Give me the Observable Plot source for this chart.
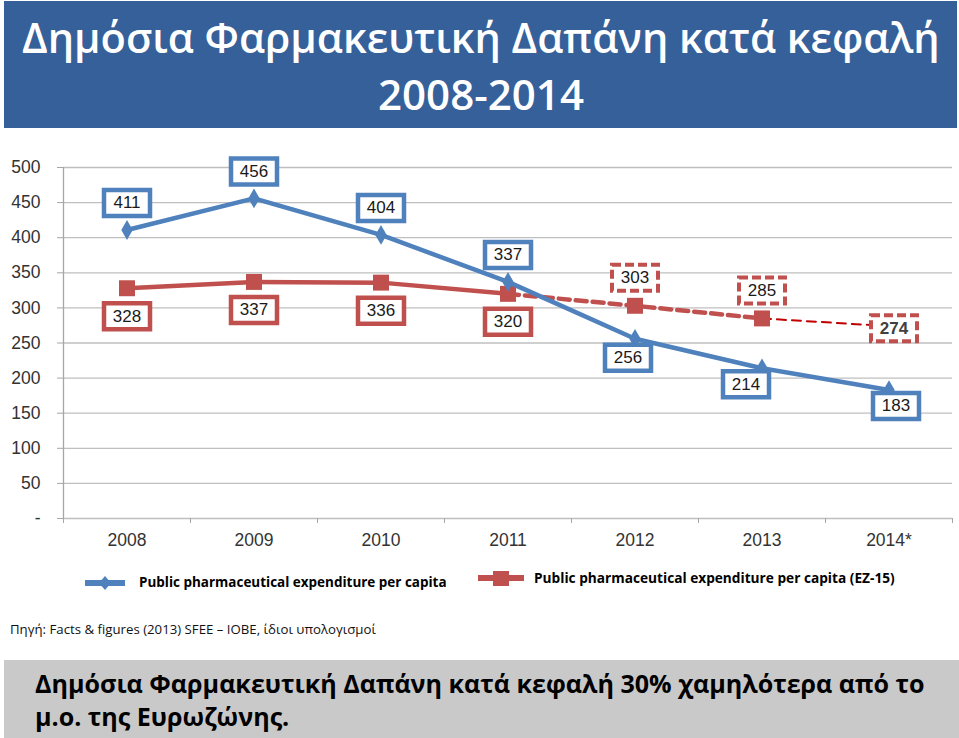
<!DOCTYPE html>
<html>
<head>
<meta charset="utf-8">
<script src="https://cdn.jsdelivr.net/npm/d3@7"></script>
<script src="https://cdn.jsdelivr.net/npm/@observablehq/plot@0.6"></script>
<style>
  html, body { margin: 0; padding: 0; background: #fff; width: 959px; height: 738px; overflow: hidden; }
  .abs { position: absolute; white-space: nowrap; }
  #banner { left: 4px; top: 1px; width: 953px; height: 127px; background: #36609A; }
  #graybox { left: 4px; top: 660px; width: 955px; height: 78px; background: #C9C9C9; }
  .t1 { color: #fff; font-family: "Open Sans", sans-serif; }
  .b1 { color: #000; font-family: "Open Sans", sans-serif; font-weight: 700; }
  .leg { font-family: "Open Sans", sans-serif; font-weight: 700; color: #000; }
  #chart { left: 0; top: 135px; }
</style>
</head>
<body>
<div id="banner" class="abs"></div>
<div id="title1" class="abs t1">Δημόσια Φαρμακευτική Δαπάνη κατά κεφαλή</div>
<div id="title2" class="abs t1">2008-2014</div>
<div id="chart" class="abs"></div>
<svg class="abs" style="left:80px;top:572px" width="50" height="22"><line x1="5" x2="45" y1="11" y2="11" stroke="#4F81BD" stroke-width="6"/><path d="M25,4 L31,11 L25,18 L19,11 Z" fill="#4F81BD"/></svg>
<div id="leg1" class="abs leg">Public pharmaceutical expenditure per capita</div>
<svg class="abs" style="left:474px;top:567px" width="54" height="22"><line x1="4" x2="50" y1="11" y2="11" stroke="#C0504D" stroke-width="6"/><rect x="19" y="4" width="16" height="15" fill="#C0504D"/></svg>
<div id="leg2" class="abs leg">Public pharmaceutical expenditure per capita (EZ-15)</div>
<div id="source" class="abs" style="font-family:'Open Sans',sans-serif;color:#111;">Πηγή: Facts &amp; figures (2013) SFEE – IOBE, ίδιοι υπολογισμοί</div>
<div id="graybox" class="abs"></div>
<div id="bottom1" class="abs b1">Δημόσια Φαρμακευτική Δαπάνη κατά κεφαλή 30% χαμηλότερα από το</div>
<div id="bottom2" class="abs b1">μ.ο. της Ευρωζώνης.</div>
<script>
// ---- Data ----
const years = [2008, 2009, 2010, 2011, 2012, 2013, 2014];
const yearLabels = ["2008", "2009", "2010", "2011", "2012", "2013", "2014*"];
const greeceValues = [411, 456, 404, 337, 256, 214, 183];
const ezValues = [328, 337, 336, 320, 303, 285, 274];
const ezActualYears = [2008, 2009, 2010, 2011];
const ezProjectedYears = [2011, 2012, 2013];
const ezExtrapolatedYears = [2013, 2014];
const yTicks = [0, 50, 100, 150, 200, 250, 300, 350, 400, 450, 500];

// ---- text fitting helper ----
const cv = document.createElement("canvas").getContext("2d");
function fit(id, weight, family, targetWidth, left, centerY, baseSize) {
  const el = document.getElementById(id);
  cv.font = `${weight} ${baseSize}px ${family}`;
  const w = cv.measureText(el.textContent).width;
  const size = baseSize * targetWidth / w;
  place(id, weight, family, size, left, centerY);
  return size;
}
function place(id, weight, family, size, left, centerY) {
  const el = document.getElementById(id);
  el.style.fontSize = size + "px";
  el.style.fontWeight = weight;
  el.style.lineHeight = size + "px";
  el.style.left = left + "px";
  el.style.top = (centerY - size / 2) + "px";
}
const OS = '"Open Sans"';
fit("title1", 600, OS, 918, 22, 38, 40);
fit("title2", 600, OS, 206, 378, 94, 40);
const bs = fit("bottom1", 700, OS, 890, 35, 684, 26);
place("bottom2", 700, OS, bs, 35, 717);
fit("leg1", 700, OS, 308, 139, 583, 14);
fit("leg2", 700, OS, 361, 534, 578, 14);
fit("source", 400, OS, 366, 10, 630, 13);

// ---- chart ----
const greece = years.map((y, i) => ({year: y, value: greeceValues[i]}));
const ez = years.map((y, i) => ({year: y, value: ezValues[i]}));
const boxSymbol = { draw(ctx) { ctx.rect(-23, -13, 46, 26); } };
const BLUE = "#4F81BD", RED = "#C0504D";
const labelFont = {fontSize: 17, fontFamily: "Arial, 'Liberation Sans', sans-serif", fill: "#1a1a1a"};

function labelBox(rows, color, dy, dx, dashed, bold) {
  return [
    Plot.dot(rows, {x: "year", y: "value", dx, dy, symbol: boxSymbol, fill: "white", stroke: color,
      strokeWidth: dashed ? 4 : 4.5, strokeDasharray: dashed ? "9,4" : null}),
    Plot.text(rows, {x: "year", y: "value", dx, dy, text: "value", ...labelFont,
      ...(bold ? {fontWeight: "bold", fill: "#404040"} : {})})
  ];
}
const pick = (arr, ys) => arr.filter(d => ys.includes(d.year));

const chart = Plot.plot({
  width: 959,
  height: 420,
  marginTop: 32,
  marginBottom: 37,
  marginLeft: 63,
  marginRight: 7,
  style: {fontFamily: "Arial, 'Liberation Sans', sans-serif", background: "transparent"},
  x: {type: "linear", domain: [2007.5, 2014.5], label: null},
  y: {domain: [0, 500], label: null},
  marks: [
    Plot.gridY(yTicks, {stroke: "#BFBFBF", strokeOpacity: 1, strokeWidth: 1.3}),
    Plot.ruleX([2007.5], {stroke: "#A6A6A6", strokeWidth: 1.3}),
    Plot.axisY({ticks: yTicks, tickSize: 6, tickPadding: 17, stroke: "#A6A6A6", fill: "#333", fontSize: 17.5, label: null,
      tickFormat: d => d === 0 ? "-" : String(d)}),
    Plot.axisX({ticks: d3.range(2007.5, 2015, 1), tickSize: 5, tickFormat: () => "", stroke: "#A6A6A6", label: null}),
    Plot.axisX({ticks: years, tickSize: 0, tickPadding: 15, fill: "#333", fontSize: 17.5, label: null,
      tickFormat: d => yearLabels[years.indexOf(d)]}),
    // EZ lines
    Plot.line(pick(ez, ezActualYears), {x: "year", y: "value", stroke: RED, strokeWidth: 4.5}),
    Plot.line(pick(ez, ezProjectedYears), {x: "year", y: "value", stroke: RED, strokeWidth: 4.5, strokeDasharray: "11,6"}),
    Plot.line(pick(ez, ezExtrapolatedYears), {x: "year", y: "value", stroke: "#C00000", strokeWidth: 2, strokeDasharray: "9,6"}),
    Plot.dot(pick(ez, years.slice(0, 6)), {x: "year", y: "value", symbol: "square", r: 9, fill: RED}),
    // Greece line
    Plot.line(greece, {x: "year", y: "value", stroke: BLUE, strokeWidth: 4.5}),
    Plot.dot(greece, {x: "year", y: "value", symbol: "diamond", r: 6, fill: BLUE}),
    // label boxes — Greece
    ...labelBox(pick(greece, years.slice(0, 4)), BLUE, -27, 0),
    ...labelBox(pick(greece, [2012]), BLUE, 19, -7),
    ...labelBox(pick(greece, [2013]), BLUE, 16, -16),
    ...labelBox(pick(greece, [2014]), BLUE, 16, 7),
    // label boxes — EZ
    ...labelBox(pick(ez, years.slice(0, 4)), RED, 28, 0),
    ...labelBox(pick(ez, [2012, 2013]), RED, -28, 0, true),
    ...labelBox(pick(ez, [2014]), RED, 2, 5, true, true)
  ]
});
document.getElementById("chart").appendChild(chart);
</script>
</body>
</html>
